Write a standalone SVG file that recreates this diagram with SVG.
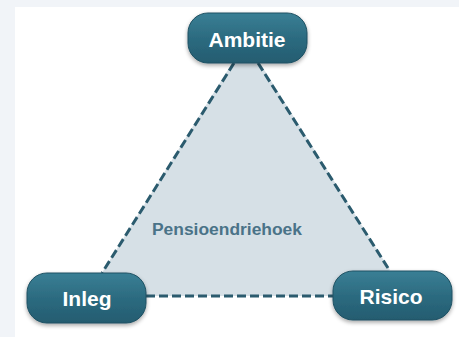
<svg xmlns="http://www.w3.org/2000/svg" width="459" height="337" viewBox="0 0 459 337">
<defs>
<linearGradient id="ng" x1="0" y1="0" x2="0" y2="1">
<stop offset="0" stop-color="#3a7f95"/>
<stop offset="0.5" stop-color="#2c6b80"/>
<stop offset="1" stop-color="#245c70"/>
</linearGradient>
<filter id="sh" x="-20%" y="-20%" width="140%" height="150%">
<feGaussianBlur in="SourceAlpha" stdDeviation="2"/>
<feOffset dx="0" dy="2" result="b"/>
<feComponentTransfer><feFuncA type="linear" slope="0.35"/></feComponentTransfer>
<feMerge><feMergeNode/><feMergeNode in="SourceGraphic"/></feMerge>
</filter>
</defs>
<style>
.node rect{fill:url(#ng);stroke:#1f5163;stroke-width:1;filter:url(#sh)}
.node text{fill:#ffffff;font-family:"Liberation Sans",Arial,sans-serif;font-weight:bold;font-size:21px;text-anchor:middle}
.edge{stroke:#2b5b6e;stroke-width:3;stroke-dasharray:9 4;fill:none}
</style>
<rect x="0" y="0" width="459" height="337" fill="#f1f4f8"/>
<rect x="15" y="7" width="444" height="330" fill="#ffffff"/>
<polygon points="234,60 258,60 390,270 340,296 146,296 100,276" fill="#d6e0e6"/>
<g id="connectors">
<line class="edge" x1="234" y1="63" x2="102" y2="273"/>
<line class="edge" x1="258" y1="63" x2="388" y2="268"/>
<line class="edge" x1="146" y1="296" x2="333" y2="296"/>
</g>
<g id="label"><text x="227" y="235" font-family="'Liberation Sans',Arial,sans-serif" font-weight="bold" font-size="16" fill="#4a7388" text-anchor="middle" textLength="150" lengthAdjust="spacingAndGlyphs">Pensioendriehoek</text></g>
<g id="ambitie" class="node"><rect x="188" y="13" width="119" height="50" rx="20"/><text x="247" y="47">Ambitie</text></g>
<g id="inleg" class="node"><rect x="27" y="273" width="119" height="50" rx="20"/><text x="87" y="306">Inleg</text></g>
<g id="risico" class="node"><rect x="333" y="271" width="119" height="49" rx="20"/><text x="391" y="304">Risico</text></g>
</svg>
